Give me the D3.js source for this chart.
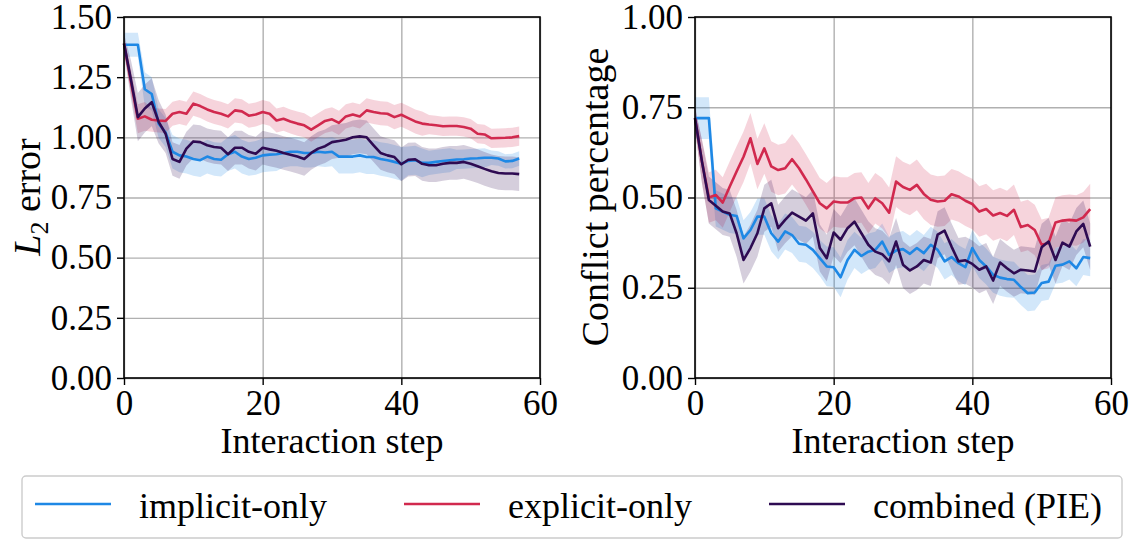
<!DOCTYPE html>
<html>
<head>
<meta charset="utf-8">
<script src="https://cdn.jsdelivr.net/npm/d3@7"></script>
<style>
  body { margin: 0; background: #fff; }
  svg { display: block; }
</style>
</head>
<body>
<svg id="chart" width="1139" height="540"></svg>
<script>
// interaction steps 0..57
var steps = d3.range(58)

var seriesNames = ["implicit-only", "explicit-only", "combined (PIE)"]
var seriesColors = ["#1e88e5", "#d1294e", "#2e0b52"]

// left panel: L2 error
var l2Implicit = [1.385, 1.385, 1.385, 1.20, 1.18, 1.057, 1.02, 0.94, 0.925, 0.92, 0.91, 0.905, 0.92, 0.91, 0.907, 0.93, 0.94, 0.92, 0.91, 0.915, 0.925, 0.928, 0.93, 0.935, 0.94, 0.94, 0.935, 0.935, 0.94, 0.937, 0.94, 0.92, 0.92, 0.92, 0.925, 0.918, 0.918, 0.91, 0.905, 0.898, 0.89, 0.902, 0.905, 0.894, 0.894, 0.898, 0.902, 0.905, 0.908, 0.909, 0.912, 0.913, 0.915, 0.915, 0.912, 0.90, 0.902, 0.912]
var l2Explicit = [1.39, 1.23, 1.077, 1.087, 1.073, 1.07, 1.068, 1.098, 1.105, 1.098, 1.14, 1.13, 1.116, 1.105, 1.098, 1.087, 1.112, 1.108, 1.09, 1.095, 1.105, 1.098, 1.07, 1.077, 1.066, 1.057, 1.05, 1.032, 1.05, 1.068, 1.075, 1.06, 1.087, 1.095, 1.087, 1.112, 1.105, 1.1, 1.098, 1.084, 1.094, 1.08, 1.066, 1.057, 1.053, 1.05, 1.046, 1.047, 1.047, 1.043, 1.036, 1.015, 1.012, 0.996, 0.997, 0.998, 1.0, 1.005]
var l2Combined = [1.39, 1.24, 1.084, 1.12, 1.146, 1.064, 1.015, 0.91, 0.898, 0.953, 0.983, 0.98, 0.967, 0.96, 0.957, 0.93, 0.957, 0.957, 0.94, 0.932, 0.957, 0.95, 0.944, 0.935, 0.928, 0.92, 0.91, 0.935, 0.953, 0.963, 0.98, 0.985, 0.99, 1.0, 1.004, 1.0, 0.967, 0.935, 0.925, 0.918, 0.888, 0.907, 0.909, 0.89, 0.884, 0.884, 0.89, 0.894, 0.894, 0.898, 0.89, 0.88, 0.869, 0.859, 0.852, 0.85, 0.85, 0.847]
var l2ImplicitStd = [0.05, 0.05, 0.05, 0.07, 0.07, 0.06, 0.06, 0.07, 0.07, 0.07, 0.07, 0.07, 0.07, 0.07, 0.07, 0.07, 0.07, 0.07, 0.07, 0.07, 0.07, 0.07, 0.07, 0.06, 0.06, 0.06, 0.06, 0.06, 0.06, 0.06, 0.06, 0.07, 0.07, 0.07, 0.07, 0.07, 0.07, 0.07, 0.07, 0.07, 0.07, 0.06, 0.06, 0.06, 0.05, 0.05, 0.05, 0.05, 0.04, 0.04, 0.04, 0.04, 0.04, 0.03, 0.03, 0.03, 0.03, 0.03]
var l2ExplicitStd = [0.03, 0.05, 0.06, 0.06, 0.05, 0.05, 0.05, 0.05, 0.05, 0.05, 0.05, 0.05, 0.05, 0.05, 0.05, 0.05, 0.05, 0.05, 0.05, 0.05, 0.05, 0.05, 0.05, 0.05, 0.05, 0.05, 0.05, 0.05, 0.05, 0.05, 0.05, 0.05, 0.05, 0.05, 0.05, 0.05, 0.05, 0.05, 0.05, 0.05, 0.05, 0.05, 0.05, 0.05, 0.04, 0.04, 0.04, 0.04, 0.04, 0.04, 0.04, 0.04, 0.04, 0.04, 0.04, 0.04, 0.04, 0.04]
var l2CombinedStd = [0.04, 0.08, 0.10, 0.10, 0.10, 0.09, 0.08, 0.07, 0.07, 0.07, 0.07, 0.07, 0.07, 0.07, 0.07, 0.07, 0.07, 0.07, 0.07, 0.07, 0.07, 0.07, 0.07, 0.07, 0.07, 0.07, 0.07, 0.07, 0.07, 0.07, 0.07, 0.07, 0.07, 0.07, 0.07, 0.07, 0.07, 0.07, 0.07, 0.07, 0.07, 0.07, 0.07, 0.07, 0.07, 0.07, 0.07, 0.07, 0.07, 0.07, 0.07, 0.07, 0.07, 0.07, 0.07, 0.07, 0.07, 0.07]

// right panel: conflict percentage
var cpImplicit = [0.72, 0.72, 0.72, 0.47, 0.461, 0.452, 0.449, 0.387, 0.41, 0.447, 0.447, 0.401, 0.378, 0.406, 0.396, 0.372, 0.369, 0.355, 0.332, 0.309, 0.307, 0.279, 0.327, 0.355, 0.338, 0.35, 0.355, 0.378, 0.341, 0.353, 0.357, 0.344, 0.36, 0.346, 0.369, 0.355, 0.323, 0.335, 0.318, 0.307, 0.36, 0.327, 0.309, 0.286, 0.278, 0.274, 0.272, 0.252, 0.235, 0.237, 0.263, 0.267, 0.311, 0.314, 0.323, 0.304, 0.335, 0.332]
var cpExplicit = [0.72, 0.60, 0.50, 0.507, 0.486, 0.53, 0.572, 0.613, 0.664, 0.593, 0.636, 0.586, 0.576, 0.581, 0.606, 0.581, 0.55, 0.517, 0.484, 0.47, 0.489, 0.486, 0.486, 0.498, 0.50, 0.47, 0.498, 0.484, 0.458, 0.544, 0.529, 0.521, 0.535, 0.51, 0.494, 0.489, 0.491, 0.509, 0.503, 0.491, 0.482, 0.461, 0.468, 0.45, 0.457, 0.449, 0.466, 0.418, 0.424, 0.41, 0.369, 0.374, 0.431, 0.436, 0.438, 0.436, 0.445, 0.468]
var cpCombined = [0.72, 0.60, 0.493, 0.477, 0.461, 0.456, 0.401, 0.327, 0.36, 0.401, 0.47, 0.484, 0.415, 0.438, 0.458, 0.447, 0.436, 0.456, 0.36, 0.332, 0.403, 0.383, 0.415, 0.433, 0.401, 0.369, 0.35, 0.343, 0.323, 0.378, 0.314, 0.298, 0.309, 0.327, 0.32, 0.397, 0.408, 0.364, 0.323, 0.326, 0.316, 0.30, 0.309, 0.27, 0.32, 0.304, 0.29, 0.30, 0.298, 0.295, 0.362, 0.378, 0.327, 0.375, 0.364, 0.406, 0.427, 0.364]
var cpImplicitStd = [0.058, 0.058, 0.058, 0.05, 0.05, 0.05, 0.05, 0.05, 0.05, 0.05, 0.05, 0.05, 0.05, 0.05, 0.05, 0.05, 0.05, 0.05, 0.05, 0.055, 0.055, 0.055, 0.055, 0.05, 0.05, 0.05, 0.05, 0.05, 0.05, 0.05, 0.05, 0.05, 0.05, 0.05, 0.05, 0.05, 0.05, 0.05, 0.05, 0.05, 0.05, 0.05, 0.05, 0.05, 0.05, 0.05, 0.05, 0.05, 0.05, 0.05, 0.05, 0.05, 0.05, 0.05, 0.05, 0.05, 0.05, 0.05]
var cpExplicitStd = [0.03, 0.06, 0.07, 0.07, 0.07, 0.07, 0.07, 0.07, 0.07, 0.07, 0.07, 0.07, 0.07, 0.07, 0.07, 0.07, 0.07, 0.07, 0.07, 0.07, 0.07, 0.07, 0.07, 0.07, 0.07, 0.07, 0.07, 0.07, 0.07, 0.07, 0.07, 0.07, 0.07, 0.07, 0.07, 0.07, 0.07, 0.07, 0.07, 0.07, 0.07, 0.07, 0.07, 0.07, 0.07, 0.07, 0.07, 0.07, 0.07, 0.07, 0.07, 0.07, 0.07, 0.07, 0.07, 0.07, 0.07, 0.07]
var cpCombinedStd = [0.03, 0.06, 0.065, 0.065, 0.065, 0.065, 0.065, 0.065, 0.065, 0.065, 0.065, 0.065, 0.065, 0.065, 0.065, 0.065, 0.065, 0.065, 0.065, 0.065, 0.065, 0.065, 0.065, 0.065, 0.065, 0.065, 0.065, 0.065, 0.065, 0.065, 0.065, 0.065, 0.065, 0.065, 0.065, 0.065, 0.065, 0.065, 0.065, 0.065, 0.065, 0.065, 0.065, 0.065, 0.065, 0.065, 0.065, 0.065, 0.065, 0.065, 0.065, 0.065, 0.065, 0.065, 0.065, 0.065, 0.065, 0.065]

var xTicks = [0, 20, 40, 60]
var l2Ticks = [0, 0.25, 0.5, 0.75, 1.0, 1.25, 1.5]
var cpTicks = [0, 0.25, 0.5, 0.75, 1.0]

var FONT = "Liberation Serif"

var svg = d3.select("#chart").attr("font-family", FONT)

function makePanel (left, yMax, yTicks, means, stds) {
	var top = 17, width = 416, height = 361

	var x_scale = d3.scaleLinear().domain([0, 60]).range([0, width])
	var y_scale = d3.scaleLinear().domain([0, yMax]).range([height, 0])

	var g = svg.append("g").attr("transform", "translate(" + left + "," + top + ")")

	// grid
	g.append("g")
		.call(d3.axisBottom(x_scale).tickValues(xTicks).tickSize(height).tickFormat(""))
		.call(a => a.select(".domain").remove())
		.selectAll("line").attr("stroke", "#b0b0b0").attr("stroke-width", 1.4)
	g.append("g")
		.call(d3.axisLeft(y_scale).tickValues(yTicks).tickSize(-width).tickFormat(""))
		.call(a => a.select(".domain").remove())
		.selectAll("line").attr("stroke", "#b0b0b0").attr("stroke-width", 1.4)

	var area = d3.area()
		.x(d => x_scale(d.s))
		.y0(d => y_scale(d.m - d.sd))
		.y1(d => y_scale(d.m + d.sd))
	var line = d3.line()
		.x(d => x_scale(d.s))
		.y(d => y_scale(d.m))

	var rows = means.map((vals, k) => steps.map(s => ({s: s, m: vals[s], sd: stds[k][s]})))

	rows.forEach(function (r, k) {
		g.append("path").attr("d", area(r))
			.attr("fill", seriesColors[k]).attr("fill-opacity", 0.2)
	})
	rows.forEach(function (r, k) {
		g.append("path").attr("d", line(r))
			.attr("fill", "none").attr("stroke", seriesColors[k])
			.attr("stroke-width", 2.6).attr("stroke-linejoin", "round")
	})

	// frame
	g.append("rect").attr("width", width).attr("height", height)
		.attr("fill", "none").attr("stroke", "#000").attr("stroke-width", 1.6)

	var xa = g.append("g").attr("transform", "translate(0," + height + ")")
		.call(d3.axisBottom(x_scale).tickValues(xTicks).tickSize(7).tickPadding(5).tickFormat(d3.format("d")))
	var ya = g.append("g")
		.call(d3.axisLeft(y_scale).tickValues(yTicks).tickSize(7).tickPadding(5).tickFormat(d3.format(".2f")))
	;[xa, ya].forEach(function (a) {
		a.attr("font-family", FONT).attr("font-size", 35)
		a.select(".domain").remove()
		a.selectAll("line").attr("stroke", "#000").attr("stroke-width", 1.4)
		a.selectAll("text").attr("fill", "#000")
	})

	g.append("text")
		.attr("x", width / 2).attr("y", 453 - top)
		.attr("text-anchor", "middle")
		.attr("font-size", 36)
		.text("Interaction step")

	return g
}

makePanel(124, 1.5, l2Ticks, [l2Implicit, l2Explicit, l2Combined], [l2ImplicitStd, l2ExplicitStd, l2CombinedStd])
makePanel(695, 1.0, cpTicks, [cpImplicit, cpExplicit, cpCombined], [cpImplicitStd, cpExplicitStd, cpCombinedStd])

// y labels
var yl = svg.append("text")
	.attr("transform", "translate(40,197) rotate(-90)")
	.attr("text-anchor", "middle")
	.attr("font-size", 38)
yl.append("tspan").attr("font-style", "italic").text("L")
yl.append("tspan").attr("dy", 8).attr("font-size", 26).text("2")
yl.append("tspan").attr("dy", -8).text(" error")

svg.append("text")
	.attr("transform", "translate(608,197) rotate(-90)")
	.attr("text-anchor", "middle")
	.attr("font-size", 38)
	.text("Conflict percentage")

// legend
var legend = svg.append("g")
legend.append("rect")
	.attr("x", 22).attr("y", 476).attr("width", 1100).attr("height", 62)
	.attr("rx", 4).attr("fill", "#fff").attr("stroke", "#cccccc").attr("stroke-width", 1.4)
var legendX = [35, 404, 769]
seriesNames.forEach(function (name, k) {
	legend.append("line")
		.attr("x1", legendX[k]).attr("x2", legendX[k] + 76)
		.attr("y1", 504).attr("y2", 504)
		.attr("stroke", seriesColors[k]).attr("stroke-width", 2.6)
	legend.append("text")
		.attr("x", legendX[k] + 104).attr("y", 518)
		.attr("font-size", 36)
		.text(name)
})
</script>
</body>
</html>
